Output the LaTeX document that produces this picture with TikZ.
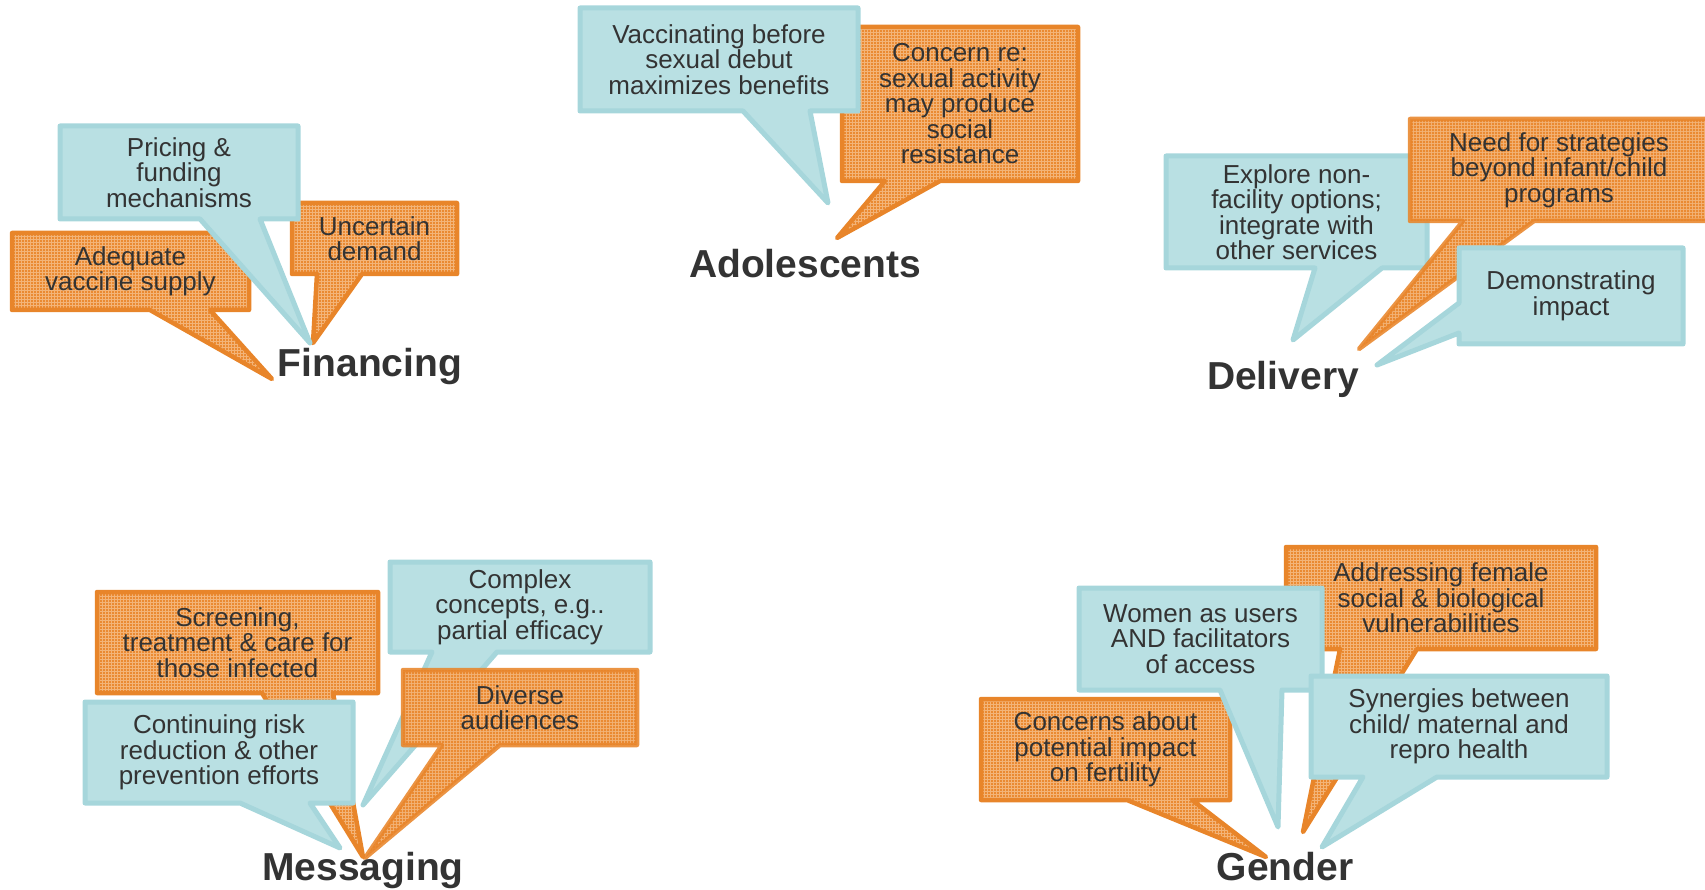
\documentclass[tikz,border=0pt]{standalone}
\usepackage{fontspec}
\setmainfont{Liberation Sans}
\usetikzlibrary{patterns}
\definecolor{bfill}{HTML}{B9E0E3}
\definecolor{bline}{HTML}{A6D6DB}
\definecolor{ofill}{HTML}{EA8A32}
\definecolor{ogrid}{HTML}{F3B478}
\definecolor{oline}{HTML}{E8852A}
\definecolor{tgray}{HTML}{333333}
\pgfdeclarepatternformonly{ogridpat}{\pgfqpoint{-0.5pt}{-0.5pt}}{\pgfqpoint{3.5pt}{3.5pt}}{\pgfqpoint{3pt}{3pt}}{%
  \pgfsetlinewidth{0.9pt}%
  \pgfpathmoveto{\pgfqpoint{0pt}{-0.1pt}}\pgfpathlineto{\pgfqpoint{0pt}{3.1pt}}%
  \pgfpathmoveto{\pgfqpoint{-0.1pt}{0pt}}\pgfpathlineto{\pgfqpoint{3.1pt}{0pt}}%
  \pgfusepath{stroke}}
\tikzset{
  orng/.style={preaction={fill=ofill}, pattern=ogridpat, pattern color=ogrid, draw=oline, line width=4.5pt, line join=round},
  blu/.style={fill=bfill, draw=bline, line width=5pt, line join=round},
  txt/.style={align=center, text=tgray, font=\fontsize{26}{25.5}\selectfont, inner sep=0pt},
  hdr/.style={text=tgray, font=\bfseries\fontsize{39}{39}\selectfont, anchor=base, inner sep=0pt}
}
\begin{document}
\begin{tikzpicture}[x=1pt,y=-1pt]
\useasboundingbox (0,0) rectangle (1705,890);
% ---------------- Financing
\path[orng] (12,233) -- (249,233) -- (249,310) -- (210,310) -- (272,379) -- (150,310) -- (12,310) -- cycle;
\node[txt] (adequate) at (130.5,271.5) {Adequate\\vaccine supply};
\path[orng] (292,203) -- (457,203) -- (457,274) -- (362,274) -- (313,343) -- (317,274) -- (292,274) -- cycle;
\node[txt] (uncertain) at (374.5,238.5) {Uncertain\\demand};
\path[blu] (60,126) -- (298,126) -- (298,219) -- (260,219) -- (310,343) -- (200,219) -- (60,219) -- cycle;
\node[txt] (pricing) at (179,172.5) {Pricing \&\\funding\\mechanisms};
\node[hdr] (financing) at (370,377) {Financing};
% ---------------- Adolescents
\path[orng] (842,27) -- (1078,27) -- (1078,181) -- (940,181) -- (837,238) -- (885,181) -- (842,181) -- cycle;
\node[txt] (concern) at (960,104) {Concern re:\\sexual activity\\may produce\\social\\resistance};
\path[blu] (580,8) -- (858,8) -- (858,111) -- (810,111) -- (828,203) -- (743,111) -- (580,111) -- cycle;
\node[txt] (vacc) at (719,59.5) {Vaccinating before\\sexual debut\\maximizes benefits};
\node[hdr] (adolescents) at (805,278) {Adolescents};
% ---------------- Delivery
\path[blu] (1166,156) -- (1427,156) -- (1427,268) -- (1382,268) -- (1293,340) -- (1315,268) -- (1166,268) -- cycle;
\node[txt] (explore) at (1296.5,212) {Explore non-\\facility options;\\integrate with\\other services};
\path[orng, opacity=0.88] (1410,119) -- (1708,119) -- (1708,221) -- (1534,221) -- (1359,349) -- (1463,221) -- (1410,221) -- cycle;
\node[txt] (need) at (1559,170) {Need for strategies\\beyond infant/child\\programs};
\path[blu] (1459,248) -- (1683,248) -- (1683,344) -- (1459,344) -- (1459,333) -- (1377,365) -- (1459,303) -- cycle;
\node[txt] (demo) at (1571,296) {Demonstrating\\impact};
\node[hdr] (delivery) at (1283,389) {Delivery};
% ---------------- Messaging
\path[orng] (97,592) -- (378,592) -- (378,693) -- (333,693) -- (363,857) -- (262,693) -- (97,693) -- cycle;
\node[txt] (screening) at (237.5,642.5) {Screening,\\treatment \& care for\\those infected};
\path[blu] (390,562) -- (650,562) -- (650,652) -- (497,652) -- (363,805) -- (432,652) -- (390,652) -- cycle;
\node[txt] (complex) at (520,607) {Complex\\concepts, e.g..\\partial efficacy};
\path[orng, opacity=0.88] (403,670) -- (637,670) -- (637,745) -- (500,745) -- (365,858) -- (442,745) -- (403,745) -- cycle;
\node[txt] (diverse) at (520,707.5) {Diverse\\audiences};
\path[blu] (85,702) -- (353,702) -- (353,803) -- (310,803) -- (340,848) -- (240,803) -- (85,803) -- cycle;
\node[txt] (continuing) at (219,752.5) {Continuing risk\\reduction \& other\\prevention efforts};
\node[hdr] (messaging) at (363,880) {Messaging};
% ---------------- Gender
\path[orng] (1286,547) -- (1596,547) -- (1596,649) -- (1417,649) -- (1303,832) -- (1340,649) -- (1286,649) -- cycle;
\node[txt] (addressing) at (1441,598) {Addressing female\\social \& biological\\vulnerabilities};
\path[orng] (981,699) -- (1230,699) -- (1230,800) -- (1192,800) -- (1266,857) -- (1127,800) -- (981,800) -- cycle;
\node[txt] (fertility) at (1105.5,749.5) {Concerns about\\potential impact\\on fertility};
\path[blu] (1079,588) -- (1322,588) -- (1322,690) -- (1282,690) -- (1278,827) -- (1220,690) -- (1079,690) -- cycle;
\node[txt] (women) at (1200.5,639) {Women as users\\AND facilitators\\of access};
\path[blu] (1311,676) -- (1607,676) -- (1607,777) -- (1437,777) -- (1322,847) -- (1363,777) -- (1311,777) -- cycle;
\node[txt] (synergies) at (1459,726.5) {Synergies between\\child/ maternal and\\repro health};
\node[hdr] (gender) at (1285,880) {Gender};
\end{tikzpicture}
\end{document}
